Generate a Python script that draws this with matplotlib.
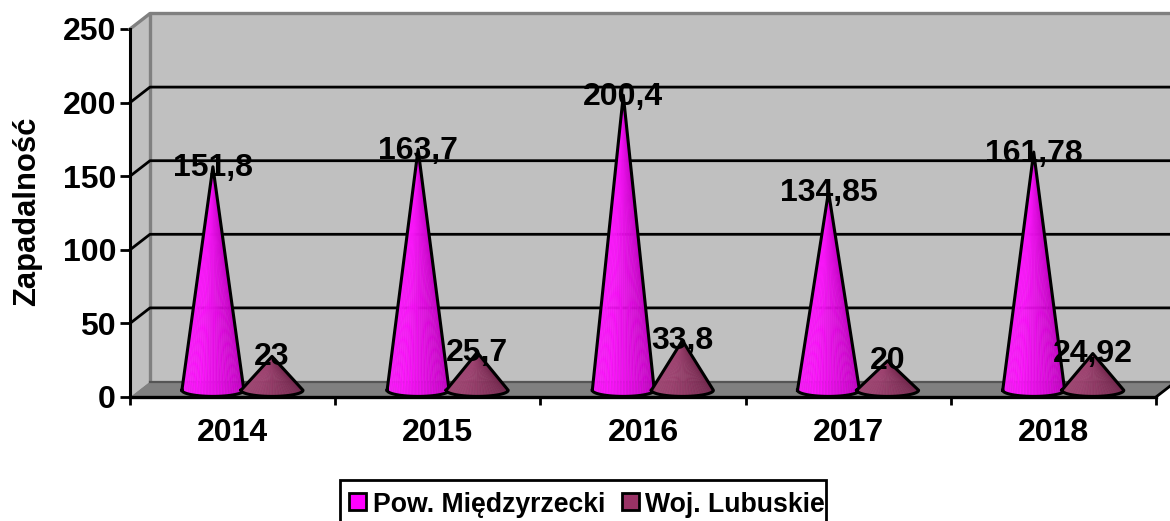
import matplotlib
matplotlib.use('Agg')
import matplotlib.pyplot as plt
from matplotlib.patches import Polygon, Rectangle
from matplotlib.collections import PolyCollection
import numpy as np

plt.rcParams['font.family'] = ['Liberation Sans', 'DejaVu Sans']
plt.rcParams['font.weight'] = 'bold'

years = ['2014', '2015', '2016', '2017', '2018']
pow_values = [151.8, 163.7, 200.4, 134.85, 161.78]
woj_values = [23, 25.7, 33.8, 20, 24.92]
pow_labels = ['151,8', '163,7', '200,4', '134,85', '161,78']
woj_labels = ['23', '25,7', '33,8', '20', '24,92']
yticks = [0, 50, 100, 150, 200, 250]

W, H = 1170, 521
fig = plt.figure(figsize=(W / 100, H / 100), dpi=100)
ax = fig.add_axes([130 / W, 1 - 397 / H, (1156 - 130) / W, (397 - 29) / H])
ax.set_xlim(0, 5)
ax.set_ylim(0, 250)
for s in ax.spines.values():
    s.set_visible(False)
ax.patch.set_alpha(0)

# glebokosc wykresu 3d w jednostkach danych
dx = 20 / 205.2
dy = 15.5 / 1.472
gray = '#808080'
fs = 23

# sciany
ax.add_patch(Polygon([(dx, dy), (5 + dx, dy), (5 + dx, 250 + dy), (dx, 250 + dy)], fc='#c0c0c0', ec='none', clip_on=False, zorder=1))
ax.add_patch(Polygon([(0, 0), (dx, dy), (dx, 250 + dy), (0, 250)], fc='#c0c0c0', ec='none', clip_on=False, zorder=1))
ax.add_patch(Polygon([(0, 0), (5, 0), (5 + dx, dy), (dx, dy)], fc=gray, ec='none', clip_on=False, zorder=1))
ax.plot([0, dx, 5 + dx], [250, 250 + dy, 250 + dy], color=gray, lw=2.4, clip_on=False, zorder=2)
ax.plot([dx, dx], [dy, 250 + dy], color=gray, lw=2.4, clip_on=False, zorder=2)
ax.plot([dx, 5 + dx], [dy, dy], color='#555555', lw=1.6, clip_on=False, zorder=2)

# siatka
for v in yticks[1:-1]:
    ax.plot([0, dx, 5 + dx], [v, v + dy, v + dy], color='black', lw=2, clip_on=False, zorder=2)
ax.plot([0, 0], [0, 250], color='black', lw=2.2, clip_on=False, zorder=3)
ax.plot([0, 5], [0, 0], color='black', lw=2.4, clip_on=False, zorder=3)
ax.plot([5, 5 + dx], [0, dy], color='black', lw=2, clip_on=False, zorder=3)

ax.set_xticks(range(6))
ax.set_xticklabels([])
ax.set_xticks(np.arange(5) + 0.5, minor=True)
ax.set_xticklabels(years, minor=True, fontsize=fs, fontweight='bold')
ax.set_yticks(yticks)
ax.set_yticklabels([str(v) for v in yticks], fontsize=fs, fontweight='bold')
ax.tick_params(axis='x', which='major', length=6, width=2, direction='out')
ax.tick_params(axis='x', which='minor', length=0, pad=15)
ax.tick_params(axis='y', length=7, width=2, direction='out', pad=3)
ax.set_ylabel('Zapadalność', fontsize=22.3, fontweight='bold')
ax.yaxis.set_label_coords(-0.086, 0.505)


def cone(cx, value, color, z):
    half_w = 0.151
    half_h = 4.2
    base_y = 4.6
    apex = (cx, base_y + value)
    th = np.linspace(np.pi, 2 * np.pi, 61)
    xs = cx + half_w * np.cos(th)
    ys = base_y + half_h * np.sin(th)
    polys = []
    cols = []
    base = np.array(matplotlib.colors.to_rgb(color))
    for i in range(len(th) - 1):
        polys.append([apex, (xs[i], ys[i]), (xs[i + 1], ys[i + 1])])
        t = i / (len(th) - 2)
        f = 1.0 - 0.25 * max(0, t - 0.35) / 0.65 + (0.0 if i % 2 else -0.05)
        cols.append(np.clip(base * f + (0.12 * (1 - t) * (1 - base)), 0, 1))
    ax.add_collection(PolyCollection(polys, facecolors=cols, edgecolors=cols, linewidths=0.3, clip_on=False, zorder=z))
    ax.plot(np.r_[xs, apex[0], xs[0]], np.r_[ys, apex[1], ys[0]],
            color='black', lw=2.2, clip_on=False, zorder=z + 0.1, solid_joinstyle='round')


for i in range(5):
    cone(i + 0.404, pow_values[i], '#ff00ff', 4)
    cone(i + 0.692, woj_values[i], '#993366', 4.5)
for i in range(5):
    ax.text(i + 0.404, pow_values[i] + 3.5, pow_labels[i], ha='center', va='center', fontsize=fs, fontweight='bold', zorder=6, clip_on=False)
    ax.text(i + 0.692, woj_values[i] + 4.5, woj_labels[i], ha='center', va='center', fontsize=fs, fontweight='bold', zorder=6, clip_on=False)

# legenda: ramka wychodzi poza dolna krawedz obrazka
pix = fig.transFigure


def px(x, y):
    return x / W, 1 - y / H


fig.add_artist(Rectangle(px(340, 535), 486 / W, 55 / H, transform=pix, fc='white', ec='black', lw=2))
fig.add_artist(Rectangle(px(349, 510), 17 / W, 17 / H, transform=pix, fc='#ff00ff', ec='black', lw=2))
fig.add_artist(Rectangle(px(622, 510), 17 / W, 17 / H, transform=pix, fc='#993366', ec='black', lw=2))
lx, ly = px(373, 505)
fig.text(lx, ly, 'Pow. Międzyrzecki', fontsize=19.2, fontweight='bold', va='center', ha='left')
lx, ly = px(645, 505)
fig.text(lx, ly, 'Woj. Lubuskie', fontsize=19.2, fontweight='bold', va='center', ha='left')

fig.savefig('out.png', dpi=100)
